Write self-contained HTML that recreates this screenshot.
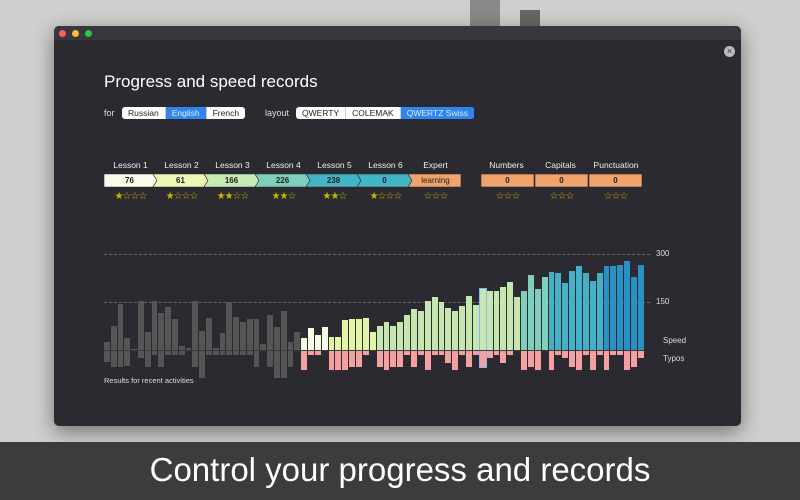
<!DOCTYPE html>
<html><head><meta charset="utf-8"><style>
*{margin:0;padding:0;box-sizing:border-box}
body{width:800px;height:500px;overflow:hidden;background:#cfcfcd;font-family:"Liberation Sans",sans-serif;position:relative}
.win{position:absolute;left:54px;top:26px;width:687px;height:400px;background:#2b2a31;border-radius:5px;box-shadow:0 6px 20px rgba(0,0,0,.45);overflow:hidden}
.tb{position:absolute;left:0;top:0;width:100%;height:14px;background:#38373d}
.dot{position:absolute;top:4px;width:7px;height:7px;border-radius:50%}
.abs{position:absolute}
.seg{position:absolute;display:flex;background:#fff;border-radius:3px;overflow:hidden;height:12px;font-size:8.5px;line-height:12px;color:#222}
.seg span{padding:0 6px;border-right:1px solid #ccc}
.seg .on{background:#2f86f0;color:#dfe9ff}
.lab{position:absolute;font-size:8.5px;color:#eee;text-align:center;width:51px}
.box{position:absolute;top:174px;height:13px;font-size:8px;font-weight:bold;text-align:center;line-height:13px;color:#222}
.st{position:absolute;top:191px;font-size:10px;color:#c9b600;text-align:center;letter-spacing:-1px}
.bars{position:absolute;top:240px;height:111px;display:flex;gap:1px}
.b{flex:1;position:relative}
.b i{position:absolute;left:0;right:0;bottom:0;height:calc(var(--s)*1px);background:var(--c)}
.b u{position:absolute;left:0;right:0;top:100%;height:calc(var(--t)*1px);background:var(--p)}
.g{--c:#555;--p:#555}
.w{--c:#fafae8;--p:#f4a0a0}.y{--c:#e4f4a6;--p:#f4a0a0}.gr{--c:#c6e8b0;--p:#f4a0a0}
.te{--c:#7fcfbd;--p:#f4a0a0}.bl{--c:#45b1c9;--p:#f4a0a0}.db{--c:#2a91c4;--p:#f4a0a0}
.dash{position:absolute;left:104px;width:546px;border-top:1px dashed #666}
.ax{position:absolute;font-size:8px;color:#ddd}
</style></head><body>
<div class="abs" style="left:470px;top:0;width:30px;height:26px;background:#888"></div>
<div class="abs" style="left:520px;top:10px;width:20px;height:16px;background:#666"></div>
<div class="win">
<div class="tb"></div>
<div class="dot" style="left:5px;background:#fc5f57"></div>
<div class="dot" style="left:18px;background:#fdbc2e"></div>
<div class="dot" style="left:31px;background:#28c840"></div>
<div class="abs" style="left:670px;top:20px;width:11px;height:11px;border-radius:50%;background:#bbb;color:#333;font-size:9px;line-height:11px;text-align:center">×</div>
</div>
<div class="abs" style="left:104px;top:72px;font-size:17px;color:#fff">Progress and speed records</div>
<div class="abs" style="left:104px;top:108px;font-size:9px;color:#ddd">for</div>
<div class="seg" style="left:122px;top:107px"><span>Russian</span><span class="on">English</span><span style="border:0">French</span></div>
<div class="abs" style="left:265px;top:108px;font-size:9px;color:#ddd">layout</div>
<div class="seg" style="left:296px;top:107px"><span>QWERTY</span><span>COLEMAK</span><span class="on" style="border:0">QWERTZ Swiss</span></div>

<div class="lab" style="left:105px;top:160px">Lesson 1</div>
<div class="lab" style="left:156px;top:160px">Lesson 2</div>
<div class="lab" style="left:207px;top:160px">Lesson 3</div>
<div class="lab" style="left:258px;top:160px">Lesson 4</div>
<div class="lab" style="left:309px;top:160px">Lesson 5</div>
<div class="lab" style="left:360px;top:160px">Lesson 6</div>
<div class="lab" style="left:410px;top:160px">Expert</div>
<div class="lab" style="left:481px;top:160px">Numbers</div>
<div class="lab" style="left:535px;top:160px">Capitals</div>
<div class="lab" style="left:585px;top:160px;width:62px">Punctuation</div>
<svg class="abs" style="left:0;top:0" width="800" height="500">
<g stroke="#2b2a31" stroke-width="0.6">
<polygon points="104,174 153,174 157,180.5 153,187 104,187" fill="#fbfbec"/>
<polygon points="153,174 204,174 208,180.5 204,187 153,187 157,180.5" fill="#ecf8b4"/>
<polygon points="204,174 255,174 259,180.5 255,187 204,187 208,180.5" fill="#c8ebb5"/>
<polygon points="255,174 306,174 310,180.5 306,187 255,187 259,180.5" fill="#80cfbd"/>
<polygon points="306,174 357,174 361,180.5 357,187 306,187 310,180.5" fill="#42b5c6"/>
<polygon points="357,174 408,174 412,180.5 408,187 357,187 361,180.5" fill="#42b5c6"/>
<polygon points="408,174 461,174 461,187 408,187 412,180.5" fill="#f0a36b"/>
<rect x="481" y="174" width="53" height="13" fill="#f0a36b"/>
<rect x="535" y="174" width="53" height="13" fill="#f0a36b"/>
<rect x="589" y="174" width="53" height="13" fill="#f0a36b"/>
</g></svg>
<div class="box" style="left:104px;width:51px">76</div>
<div class="box" style="left:155px;width:51px">61</div>
<div class="box" style="left:206px;width:51px">166</div>
<div class="box" style="left:257px;width:51px">226</div>
<div class="box" style="left:308px;width:51px">238</div>
<div class="box" style="left:359px;width:51px">0</div>
<div class="box" style="left:410px;width:51px;font-weight:normal">learning</div>
<div class="box" style="left:481px;width:53px">0</div>
<div class="box" style="left:535px;width:53px">0</div>
<div class="box" style="left:589px;width:53px">0</div>
<div class="st" style="left:105px;width:51px">★☆☆☆</div>
<div class="st" style="left:156px;width:51px">★☆☆☆</div>
<div class="st" style="left:207px;width:51px">★★☆☆</div>
<div class="st" style="left:258px;width:51px">★★☆</div>
<div class="st" style="left:309px;width:51px">★★☆</div>
<div class="st" style="left:360px;width:51px">★☆☆☆</div>
<div class="st" style="left:410px;width:51px">☆☆☆</div>
<div class="st" style="left:481px;width:53px">☆☆☆</div>
<div class="st" style="left:535px;width:53px">☆☆☆</div>
<div class="st" style="left:589px;width:53px">☆☆☆</div>

<div class="dash" style="top:254px"></div>
<div class="dash" style="top:302px"></div>
<div class="ax" style="left:656px;top:249px">300</div>
<div class="ax" style="left:656px;top:297px">150</div>
<div class="ax" style="left:663px;top:336px">Speed</div>
<div class="ax" style="left:663px;top:354px">Typos</div>
<div class="ax" style="left:104px;top:376px;font-size:7.5px">Results for recent activities</div>

<div class="bars" style="left:104px;width:196px">
<div class="b g" style="--s:9;--t:11"><i></i><u></u></div><div class="b g" style="--s:25;--t:16"><i></i><u></u></div><div class="b g" style="--s:47;--t:16"><i></i><u></u></div><div class="b g" style="--s:13;--t:15"><i></i><u></u></div><div class="b g" style="--s:2;--t:0"><i></i><u></u></div><div class="b g" style="--s:50;--t:7"><i></i><u></u></div><div class="b g" style="--s:19;--t:16"><i></i><u></u></div><div class="b g" style="--s:50;--t:4"><i></i><u></u></div><div class="b g" style="--s:38;--t:16"><i></i><u></u></div><div class="b g" style="--s:44;--t:4"><i></i><u></u></div><div class="b g" style="--s:32;--t:4"><i></i><u></u></div><div class="b g" style="--s:5;--t:4"><i></i><u></u></div><div class="b g" style="--s:3;--t:0"><i></i><u></u></div><div class="b g" style="--s:50;--t:16"><i></i><u></u></div><div class="b g" style="--s:20;--t:27"><i></i><u></u></div><div class="b g" style="--s:33;--t:4"><i></i><u></u></div><div class="b g" style="--s:3;--t:4"><i></i><u></u></div><div class="b g" style="--s:18;--t:4"><i></i><u></u></div><div class="b g" style="--s:49;--t:4"><i></i><u></u></div><div class="b g" style="--s:34;--t:4"><i></i><u></u></div><div class="b g" style="--s:29;--t:4"><i></i><u></u></div><div class="b g" style="--s:32;--t:4"><i></i><u></u></div><div class="b g" style="--s:32;--t:16"><i></i><u></u></div><div class="b g" style="--s:7;--t:0"><i></i><u></u></div><div class="b g" style="--s:36;--t:16"><i></i><u></u></div><div class="b g" style="--s:24;--t:27"><i></i><u></u></div><div class="b g" style="--s:40;--t:27"><i></i><u></u></div><div class="b g" style="--s:9;--t:16"><i></i><u></u></div><div class="b g" style="--s:19;--t:0"><i></i><u></u></div>
</div>
<div class="bars" style="left:301px;width:343px">
<div class="b w" style="--s:13;--t:19"><i></i><u></u></div><div class="b w" style="--s:23;--t:4"><i></i><u></u></div><div class="b w" style="--s:16;--t:4"><i></i><u></u></div><div class="b w" style="--s:24;--t:0"><i></i><u></u></div>
<div class="b y" style="--s:14;--t:19"><i></i><u></u></div><div class="b y" style="--s:14;--t:19"><i></i><u></u></div><div class="b y" style="--s:31;--t:19"><i></i><u></u></div><div class="b y" style="--s:32;--t:16"><i></i><u></u></div><div class="b y" style="--s:32;--t:16"><i></i><u></u></div><div class="b y" style="--s:33;--t:4"><i></i><u></u></div><div class="b y" style="--s:19;--t:0"><i></i><u></u></div>
<div class="b gr" style="--s:25;--t:16"><i></i><u></u></div><div class="b gr" style="--s:29;--t:19"><i></i><u></u></div>
<div class="b gr" style="--s:25;--t:16"><i></i><u></u></div><div class="b gr" style="--s:29;--t:16"><i></i><u></u></div><div class="b gr" style="--s:36;--t:4"><i></i><u></u></div><div class="b gr" style="--s:42;--t:16"><i></i><u></u></div><div class="b gr" style="--s:40;--t:4"><i></i><u></u></div><div class="b gr" style="--s:50;--t:19"><i></i><u></u></div><div class="b gr" style="--s:54;--t:4"><i></i><u></u></div><div class="b gr" style="--s:49;--t:4"><i></i><u></u></div><div class="b gr" style="--s:43;--t:12"><i></i><u></u></div><div class="b gr" style="--s:40;--t:19"><i></i><u></u></div><div class="b gr" style="--s:45;--t:4"><i></i><u></u></div><div class="b gr" style="--s:55;--t:16"><i></i><u></u></div><div class="b gr" style="--s:46;--t:4"><i></i><u></u></div><div class="b gr" style="--s:62;--t:16"><i style="box-shadow:0 0 0 1px #8ab4f8"></i><u style="box-shadow:0 0 0 1px #8ab4f8"></u></div><div class="b gr" style="--s:60;--t:7"><i></i><u></u></div><div class="b gr" style="--s:60;--t:4"><i></i><u></u></div><div class="b gr" style="--s:64;--t:12"><i></i><u></u></div><div class="b gr" style="--s:69;--t:4"><i></i><u></u></div><div class="b gr" style="--s:54;--t:0"><i></i><u></u></div>
<div class="b te" style="--s:60;--t:19"><i></i><u></u></div><div class="b te" style="--s:76;--t:16"><i></i><u></u></div><div class="b te" style="--s:62;--t:19"><i></i><u></u></div><div class="b te" style="--s:74;--t:0"><i></i><u></u></div>
<div class="b bl" style="--s:79;--t:19"><i></i><u></u></div><div class="b bl" style="--s:78;--t:4"><i></i><u></u></div><div class="b bl" style="--s:68;--t:7"><i></i><u></u></div><div class="b bl" style="--s:80;--t:16"><i></i><u></u></div><div class="b bl" style="--s:85;--t:19"><i></i><u></u></div><div class="b bl" style="--s:78;--t:4"><i></i><u></u></div><div class="b bl" style="--s:70;--t:19"><i></i><u></u></div><div class="b bl" style="--s:78;--t:4"><i></i><u></u></div>
<div class="b db" style="--s:85;--t:19"><i></i><u></u></div><div class="b db" style="--s:85;--t:4"><i></i><u></u></div><div class="b db" style="--s:86;--t:4"><i></i><u></u></div><div class="b db" style="--s:90;--t:19"><i></i><u></u></div><div class="b db" style="--s:74;--t:16"><i></i><u></u></div><div class="b db" style="--s:86;--t:7"><i></i><u></u></div>
</div>
<div class="abs" style="left:104px;top:350px;width:540px;height:1px;background:#3a3a3a"></div>

<div class="abs" style="left:0;top:442px;width:800px;height:58px;background:#3c3c3c;color:#fff;font-size:33px;text-align:center;line-height:56px">Control your progress and records</div>
</body></html>
